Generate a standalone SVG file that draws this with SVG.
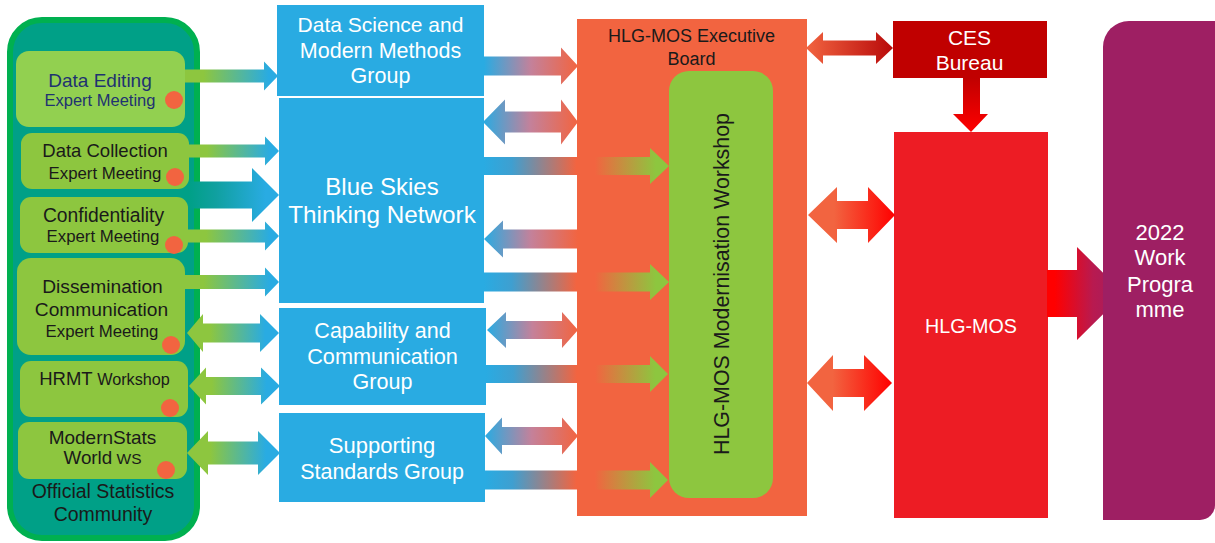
<svg xmlns="http://www.w3.org/2000/svg" width="1215" height="543" viewBox="0 0 1215 543">
<defs>
<style>
text{font-family:"Liberation Sans",Arial,sans-serif;text-anchor:middle}
.dk{fill:#1a1a1a}
.nv{fill:#1f3270}
.wt{fill:#ffffff}
.blue{fill:#29abe2}
.lg{fill:#8dc63f}
.dot{fill:#f26440}
</style>
<linearGradient id="gb" x1="0" y1="0" x2="1" y2="0"><stop offset="0" stop-color="#8dc63f"/><stop offset="0.2" stop-color="#8dc63f"/><stop offset="0.9" stop-color="#29abe2"/></linearGradient>
<linearGradient id="gbd" x1="0" y1="0" x2="1" y2="0"><stop offset="0" stop-color="#8dc63f"/><stop offset="0.25" stop-color="#8dc63f"/><stop offset="0.85" stop-color="#29abe2"/></linearGradient>
<linearGradient id="tb" x1="0" y1="0" x2="1" y2="0"><stop offset="0" stop-color="#00a087"/><stop offset="0.3" stop-color="#10a0a0"/><stop offset="0.85" stop-color="#29abe2"/></linearGradient>
<linearGradient id="bo" x1="0" y1="0" x2="1" y2="0"><stop offset="0" stop-color="#29abe2"/><stop offset="0.5" stop-color="#c4819a"/><stop offset="1" stop-color="#f26440"/></linearGradient>
<linearGradient id="bog" x1="0" y1="0" x2="1" y2="0"><stop offset="0" stop-color="#29abe2"/><stop offset="0.15" stop-color="#3f9fd0"/><stop offset="0.5" stop-color="#f26440"/><stop offset="0.6" stop-color="#f26440"/><stop offset="0.93" stop-color="#8dc63f"/></linearGradient>
<linearGradient id="od" x1="0" y1="0" x2="1" y2="0"><stop offset="0" stop-color="#f26440"/><stop offset="1" stop-color="#b80a0a"/></linearGradient>
<linearGradient id="or" x1="0" y1="0" x2="1" y2="0"><stop offset="0" stop-color="#f26440"/><stop offset="0.3" stop-color="#f26440"/><stop offset="1" stop-color="#ff0000"/></linearGradient>
<linearGradient id="dr" x1="0" y1="0" x2="0" y2="1"><stop offset="0" stop-color="#c00000"/><stop offset="1" stop-color="#ff0000"/></linearGradient>
<linearGradient id="rp" x1="0" y1="0" x2="1" y2="0"><stop offset="0" stop-color="#ff0000"/><stop offset="0.1" stop-color="#ff0000"/><stop offset="0.6" stop-color="#b81a50"/><stop offset="1" stop-color="#9e1f63"/></linearGradient>
</defs>
<rect width="1215" height="543" fill="#ffffff"/>

<g id="community">
<rect x="10" y="20" width="187" height="518" rx="32" fill="#00a087" stroke="#00b050" stroke-width="6"/>
<text class="dk" x="103" y="498" font-size="19.5">Official Statistics</text>
<text class="dk" x="103" y="521" font-size="19.5">Community</text>
</g>
<g id="data-editing">
<rect x="16" y="51" width="169" height="76" rx="13" fill="#92d050"/>
<text class="nv" x="100" y="87" font-size="19">Data Editing</text>
<text class="nv" x="100" y="106" font-size="16.5">Expert Meeting</text>
<circle class="dot" cx="174" cy="100" r="9"/>
</g>
<g id="data-collection">
<rect class="lg" x="21" y="133" width="168" height="56" rx="11"/>
<text class="dk" x="105" y="157" font-size="18.5">Data Collection</text>
<text class="dk" x="105" y="179" font-size="16.8">Expert Meeting</text>
<circle class="dot" cx="175" cy="177" r="9"/>
</g>
<g id="confidentiality">
<rect class="lg" x="20" y="197" width="168" height="56" rx="11"/>
<text class="dk" x="103.5" y="222" font-size="19.3">Confidentiality</text>
<text class="dk" x="103" y="242" font-size="16.8">Expert Meeting</text>
<circle class="dot" cx="174" cy="245" r="9"/>
</g>
<g id="dissemination">
<rect class="lg" x="17" y="258" width="168" height="97" rx="14"/>
<text class="dk" x="102.5" y="293" font-size="19.2">Dissemination</text>
<text class="dk" x="101.5" y="316" font-size="19.2">Communication</text>
<text class="dk" x="102" y="337" font-size="16.8">Expert Meeting</text>
<circle class="dot" cx="171" cy="345" r="9"/>
</g>
<g id="hrmt">
<rect class="lg" x="20" y="361" width="168" height="56" rx="11"/>
<text class="dk" x="104.5" y="385"><tspan font-size="18.5">HRMT</tspan><tspan font-size="16.2"> Workshop</tspan></text>
<circle class="dot" cx="170" cy="408" r="9"/>
</g>
<g id="modernstats">
<rect class="lg" x="18" y="422" width="169" height="57" rx="11"/>
<text class="dk" x="102.5" y="444" font-size="19">ModernStats</text>
<text class="dk" x="102.5" y="464"><tspan font-size="18.8">World</tspan><tspan font-size="15.5"> WS</tspan></text>
<circle class="dot" cx="166" cy="470" r="9"/>
</g>

<g id="data-science">
<rect class="blue" x="277" y="5" width="207" height="91"/>
<text class="wt" x="380.5" y="32" font-size="21">Data Science and</text>
<text class="wt" x="380.5" y="58" font-size="21.5">Modern Methods</text>
<text class="wt" x="380.5" y="83" font-size="21.5">Group</text>
</g>
<g id="blue-skies">
<rect class="blue" x="279" y="98" width="205" height="205"/>
<text class="wt" x="382" y="195" font-size="24">Blue Skies</text>
<text class="wt" x="382" y="223" font-size="24.3">Thinking Network</text>
</g>
<g id="capability">
<rect class="blue" x="279" y="308" width="207" height="97"/>
<text class="wt" x="382.5" y="338" font-size="21.5">Capability and</text>
<text class="wt" x="382.5" y="364" font-size="21.7">Communication</text>
<text class="wt" x="382.5" y="389" font-size="21.5">Group</text>
</g>
<g id="supporting">
<rect class="blue" x="279" y="413" width="206" height="89"/>
<text class="wt" x="382" y="453" font-size="22">Supporting</text>
<text class="wt" x="382" y="479" font-size="21.5">Standards Group</text>
</g>

<g id="executive-board">
<rect x="577" y="19" width="230" height="497" fill="#f26440"/>
<text class="dk" x="691.5" y="42" font-size="18">HLG-MOS Executive</text>
<text class="dk" x="691.5" y="65" font-size="18">Board</text>
</g>
<g id="workshop">
<rect class="lg" x="669" y="71" width="104" height="427" rx="20"/>
<text class="dk" transform="translate(729,284) rotate(-90)" font-size="21.4">HLG-MOS Modernisation Workshop</text>
</g>
<g id="ces-bureau">
<rect x="893" y="21" width="154" height="57" fill="#c00000"/>
<text class="wt" x="969.5" y="45" font-size="21">CES</text>
<text class="wt" x="969.5" y="70" font-size="21">Bureau</text>
</g>
<g id="hlg-mos">
<rect x="894" y="132" width="154" height="386" fill="#ed1c24"/>
<text class="wt" x="971" y="333" font-size="19.7">HLG-MOS</text>
</g>

<g id="connectors">
<polygon fill="url(#gb)" points="185,69.5 264,69.5 264,61.5 278,76 264,90.5 264,82.5 185,82.5"/>
<polygon fill="url(#gb)" points="189,144.5 265,144.5 265,136.5 279,151 265,165.5 265,157.5 189,157.5"/>
<polygon fill="url(#tb)" points="189,181.5 252,181.5 252,168 279,195 252,222 252,208.5 189,208.5"/>
<polygon fill="url(#gb)" points="188,229.5 265,229.5 265,221.5 279,236 265,250.5 265,242.5 188,242.5"/>
<polygon fill="url(#gb)" points="185,275 265,275 265,267.5 279,282 265,296.5 265,289 185,289"/>
<polygon fill="url(#gbd)" points="187,333 203,314 203,323.5 260,323.5 260,314 279,333 260,352 260,342.5 203,342.5 203,352"/>
<polygon fill="url(#gbd)" points="189,386 206,367.5 206,377 261,377 261,367.5 280,386 261,404.5 261,395 206,395 206,404.5"/>
<polygon fill="url(#gbd)" points="187,453 208,431 208,441.5 258,441.5 258,431 280,453 258,475 258,464.5 208,464.5 208,475"/>

<polygon fill="url(#bo)" points="484,56.5 561,56.5 561,47.5 578,66 561,84.5 561,75.5 484,75.5"/>
<polygon fill="url(#bo)" points="483,122 505,99.5 505,111.5 561,111.5 561,99.5 578,122 561,144.5 561,132.5 505,132.5 505,144.5"/>
<polygon fill="url(#bog)" points="484,157 650,157 650,148 669,166 650,184 650,175 484,175"/>
<polygon fill="url(#bo)" points="484,239 503,220.5 503,229.5 578,229.5 578,248.5 503,248.5 503,257.5"/>
<polygon fill="url(#bog)" points="484,272.5 650,272.5 650,264 669,282 650,300 650,291.5 484,291.5"/>
<polygon fill="url(#bo)" points="487,330 506,312 506,321 562,321 562,312 578,330 562,348 562,339 506,339 506,348"/>
<polygon fill="url(#bog)" points="486,365 650,365 650,356 668,374 650,392 650,383 486,383"/>
<polygon fill="url(#bo)" points="485,436 502,417.5 502,427 562,427 562,417.5 578,436 562,454.5 562,445 502,445 502,454.5"/>
<polygon fill="url(#bog)" points="485,470.5 650,470.5 650,462 668,480 650,498 650,489.5 485,489.5"/>

<polygon fill="url(#od)" points="806,48 823,32 823,40.5 876,40.5 876,32 893,48 876,64 876,55.5 823,55.5 823,64"/>
<polygon fill="url(#dr)" points="963,78 980,78 980,114 988,114 971,132 953,114 963,114"/>
<polygon fill="url(#or)" points="808,215 837,187 837,201 868,201 868,187 895,215 868,243 868,229 837,229 837,243"/>
<polygon fill="url(#or)" points="807,383 833,355 833,369 864,369 864,355 892,383 864,411 864,397 833,397 833,411"/>
<polygon fill="url(#rp)" points="1047,270 1077,270 1077,247 1124,293.5 1077,340 1077,317 1047,317"/>
</g>

<g id="work-programme">
<path d="M1103,47 A26,26 0 0 1 1129,21 H1215 V505 A15,15 0 0 1 1200,520 H1103 Z" fill="#9e1f63"/>
<text class="wt" x="1160" y="240" font-size="22">2022</text>
<text class="wt" x="1160" y="265" font-size="22">Work</text>
<text class="wt" x="1160" y="292" font-size="22">Progra</text>
<text class="wt" x="1160" y="317" font-size="22">mme</text>
</g>
</svg>
